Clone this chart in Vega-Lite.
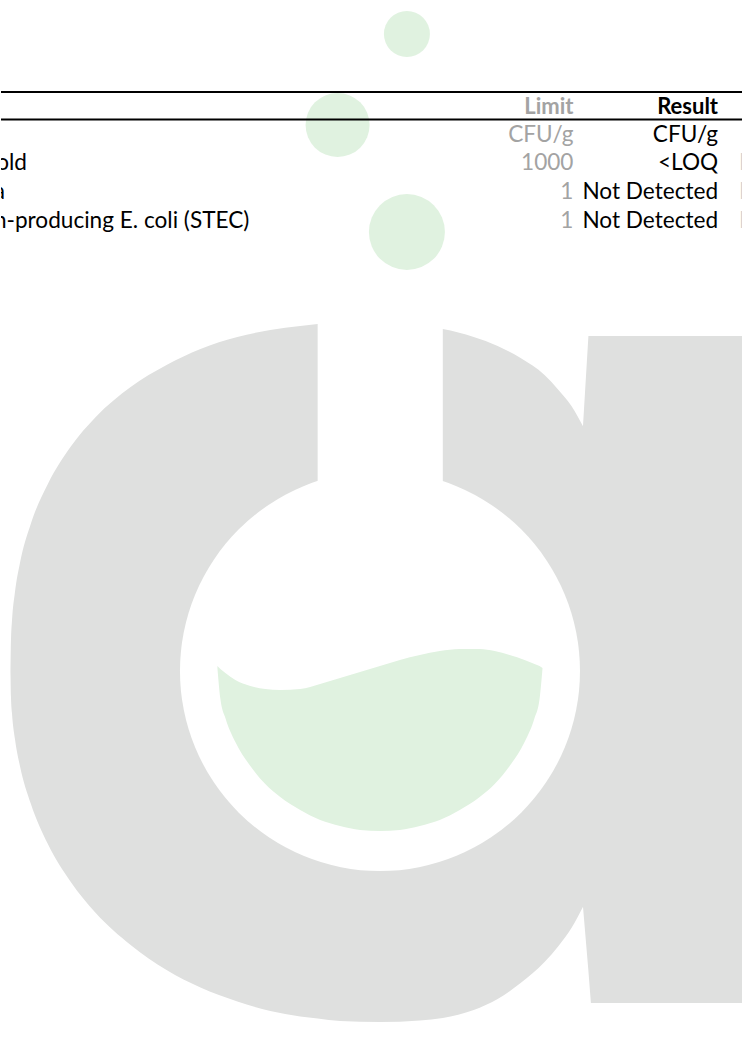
{
  "$schema": "https://vega.github.io/schema/vega-lite/v6.json",
  "width": 743,
  "height": 1040,
  "padding": 0,
  "autosize": {"type": "fit", "contains": "padding"},
  "background": "white",
  "config": {"view": {"stroke": null}},
  "datasets": {
    "bowl": [
      {"x": 9.5, "top": 672, "bottom": 672},
      {"x": 10, "top": 640, "bottom": 697},
      {"x": 11, "top": 621, "bottom": 713},
      {"x": 14, "top": 592, "bottom": 739},
      {"x": 19, "top": 563, "bottom": 766},
      {"x": 30, "top": 523.5, "bottom": 804},
      {"x": 47, "top": 484, "bottom": 844},
      {"x": 70, "top": 446.5, "bottom": 882},
      {"x": 95, "top": 417, "bottom": 913},
      {"x": 130, "top": 387, "bottom": 945},
      {"x": 166, "top": 365, "bottom": 970},
      {"x": 200, "top": 349, "bottom": 987.5},
      {"x": 237, "top": 337, "bottom": 1001.5},
      {"x": 270, "top": 330, "bottom": 1011},
      {"x": 300, "top": 326, "bottom": 1016.5},
      {"x": 317.5, "top": 324, "bottom": 1018.5},
      {"x": 340, "top": 323, "bottom": 1021},
      {"x": 380, "top": 322, "bottom": 1022},
      {"x": 420, "top": 326, "bottom": 1020.5},
      {"x": 443, "top": 329, "bottom": 1018},
      {"x": 474, "top": 337, "bottom": 1010},
      {"x": 498, "top": 346, "bottom": 999},
      {"x": 521, "top": 358, "bottom": 983},
      {"x": 545, "top": 375, "bottom": 962},
      {"x": 559, "top": 390, "bottom": 946},
      {"x": 572, "top": 406, "bottom": 928},
      {"x": 584, "top": 427, "bottom": 906}
    ],
    "stem": [
      {"x": 583.5, "top": 427, "bottom": 906},
      {"x": 589, "top": 336, "bottom": 971},
      {"x": 591.5, "top": 336, "bottom": 1003},
      {"x": 743, "top": 336, "bottom": 1003}
    ],
    "liquid": [
      {"x": 217, "top": 666, "bottom": 668},
      {"x": 220, "top": 669, "bottom": 699},
      {"x": 225, "top": 673, "bottom": 718},
      {"x": 235, "top": 680, "bottom": 742},
      {"x": 250, "top": 686, "bottom": 766},
      {"x": 265, "top": 689, "bottom": 784},
      {"x": 280, "top": 690, "bottom": 797},
      {"x": 300, "top": 689, "bottom": 810},
      {"x": 320, "top": 684, "bottom": 820},
      {"x": 340, "top": 678, "bottom": 826},
      {"x": 360, "top": 672, "bottom": 830},
      {"x": 380, "top": 666, "bottom": 831},
      {"x": 400, "top": 660, "bottom": 830},
      {"x": 420, "top": 655, "bottom": 826},
      {"x": 440, "top": 651, "bottom": 820},
      {"x": 460, "top": 649, "bottom": 810},
      {"x": 480, "top": 649, "bottom": 797},
      {"x": 495, "top": 651, "bottom": 784},
      {"x": 510, "top": 655, "bottom": 766},
      {"x": 525, "top": 660, "bottom": 742},
      {"x": 535, "top": 664, "bottom": 718},
      {"x": 540, "top": 666, "bottom": 699},
      {"x": 543, "top": 668, "bottom": 668}
    ],
    "rules": [
      {"x": 0, "x2": 743, "y": 92},
      {"x": 0, "x2": 743, "y": 119.5}
    ],
    "headers": [
      {"x": 574, "y": 114, "text": "Limit", "col": "limit"},
      {"x": 719, "y": 114, "text": "Result", "col": "result"}
    ],
    "cells": [
      {"x": 574, "y": 142, "text": "CFU/g", "col": "limit"},
      {"x": 719, "y": 142, "text": "CFU/g", "col": "result"},
      {"x": 26, "y": 170, "text": "Total Yeast and Mold", "col": "label"},
      {"x": 574, "y": 170, "text": "1000", "col": "limit"},
      {"x": 719, "y": 170, "text": "<LOQ", "col": "result"},
      {"x": 4, "y": 199, "text": "Salmonella", "col": "label"},
      {"x": 574, "y": 199, "text": "1", "col": "limit"},
      {"x": 719, "y": 199, "text": "Not Detected", "col": "result"},
      {"x": 249, "y": 228, "text": "Shiga toxin-producing E. coli (STEC)", "col": "label"},
      {"x": 574, "y": 228, "text": "1", "col": "limit"},
      {"x": 719, "y": 228, "text": "Not Detected", "col": "result"}
    ],
    "status": [
      {"x": 740, "y": 170, "text": "Pass", "col": "status"},
      {"x": 740, "y": 199, "text": "Pass", "col": "status"},
      {"x": 740, "y": 228, "text": "Pass", "col": "status"}
    ]
  },
  "layer": [
    {
      "data": {"name": "bowl"},
      "mark": {"type": "area", "interpolate": "monotone", "fill": "#dfe0df", "opacity": 1, "clip": true},
      "encoding": {
        "x": {"field": "x", "type": "quantitative", "scale": {"domain": [0, 743], "nice": false, "zero": false}, "axis": null},
        "y": {"field": "top", "type": "quantitative", "scale": {"domain": [0, 1040], "nice": false, "zero": false, "reverse": true}, "axis": null},
        "y2": {"field": "bottom"}
      }
    },
    {
      "data": {"name": "stem"},
      "mark": {"type": "area", "interpolate": "linear", "fill": "#dfe0df", "opacity": 1, "clip": true},
      "encoding": {
        "x": {"field": "x", "type": "quantitative", "axis": null},
        "y": {"field": "top", "type": "quantitative", "axis": null},
        "y2": {"field": "bottom"}
      }
    },
    {
      "data": {"values": [{"x": 579, "x2": 591, "y": 426, "y2": 906}]},
      "mark": {"type": "rect", "fill": "#dfe0df", "opacity": 1},
      "encoding": {
        "x": {"field": "x", "type": "quantitative", "axis": null},
        "x2": {"field": "x2"},
        "y": {"field": "y", "type": "quantitative", "axis": null},
        "y2": {"field": "y2"}
      }
    },
    {
      "data": {"values": [{"x": 380, "y": 671}]},
      "mark": {"type": "circle", "size": 160000, "fill": "white", "opacity": 1},
      "encoding": {
        "x": {"field": "x", "type": "quantitative", "axis": null},
        "y": {"field": "y", "type": "quantitative", "axis": null}
      }
    },
    {
      "data": {"values": [{"x": 317.5, "x2": 443, "y": 300, "y2": 490}]},
      "mark": {"type": "rect", "fill": "white", "opacity": 1},
      "encoding": {
        "x": {"field": "x", "type": "quantitative", "axis": null},
        "x2": {"field": "x2"},
        "y": {"field": "y", "type": "quantitative", "axis": null},
        "y2": {"field": "y2"}
      }
    },
    {
      "data": {"name": "liquid"},
      "mark": {"type": "area", "interpolate": "monotone", "fill": "#e0f2e0", "opacity": 1},
      "encoding": {
        "x": {"field": "x", "type": "quantitative", "axis": null},
        "y": {"field": "top", "type": "quantitative", "axis": null},
        "y2": {"field": "bottom"}
      }
    },
    {
      "data": {"values": [{"x": 407, "y": 34}]},
      "mark": {"type": "circle", "size": 2116, "fill": "#e0f2e0", "opacity": 1},
      "encoding": {
        "x": {"field": "x", "type": "quantitative", "axis": null},
        "y": {"field": "y", "type": "quantitative", "axis": null}
      }
    },
    {
      "data": {"values": [{"x": 337.5, "y": 125}]},
      "mark": {"type": "circle", "size": 4096, "fill": "#e0f2e0", "opacity": 1},
      "encoding": {
        "x": {"field": "x", "type": "quantitative", "axis": null},
        "y": {"field": "y", "type": "quantitative", "axis": null}
      }
    },
    {
      "data": {"values": [{"x": 407, "y": 232}]},
      "mark": {"type": "circle", "size": 5776, "fill": "#e0f2e0", "opacity": 1},
      "encoding": {
        "x": {"field": "x", "type": "quantitative", "axis": null},
        "y": {"field": "y", "type": "quantitative", "axis": null}
      }
    },
    {
      "data": {"name": "rules"},
      "mark": {"type": "rule", "stroke": "black", "strokeWidth": 2},
      "encoding": {
        "x": {"field": "x", "type": "quantitative", "axis": null},
        "x2": {"field": "x2"},
        "y": {"field": "y", "type": "quantitative", "axis": null}
      }
    },
    {
      "data": {"name": "headers"},
      "mark": {"type": "text", "font": "Lato", "fontSize": 22, "fontWeight": "bold", "align": "right", "baseline": "alphabetic", "clip": true},
      "encoding": {
        "x": {"field": "x", "type": "quantitative", "axis": null},
        "y": {"field": "y", "type": "quantitative", "axis": null},
        "text": {"field": "text"},
        "color": {"field": "col", "type": "nominal", "legend": null, "scale": {"domain": ["label", "limit", "result", "status"], "range": ["#000000", "#a3a3a3", "#000000", "#cfcfcf"]}}
      }
    },
    {
      "data": {"name": "cells"},
      "mark": {"type": "text", "font": "Lato", "fontSize": 22.6, "align": "right", "baseline": "alphabetic", "clip": true},
      "encoding": {
        "x": {"field": "x", "type": "quantitative", "axis": null},
        "y": {"field": "y", "type": "quantitative", "axis": null},
        "text": {"field": "text"},
        "color": {"field": "col", "type": "nominal", "legend": null}
      }
    },
    {
      "data": {"name": "status"},
      "mark": {"type": "text", "font": "Lato", "fontSize": 22.6, "align": "left", "baseline": "alphabetic", "clip": true},
      "encoding": {
        "x": {"field": "x", "type": "quantitative", "axis": null},
        "y": {"field": "y", "type": "quantitative", "axis": null},
        "text": {"field": "text"},
        "color": {"field": "col", "type": "nominal", "legend": null}
      }
    }
  ]
}
